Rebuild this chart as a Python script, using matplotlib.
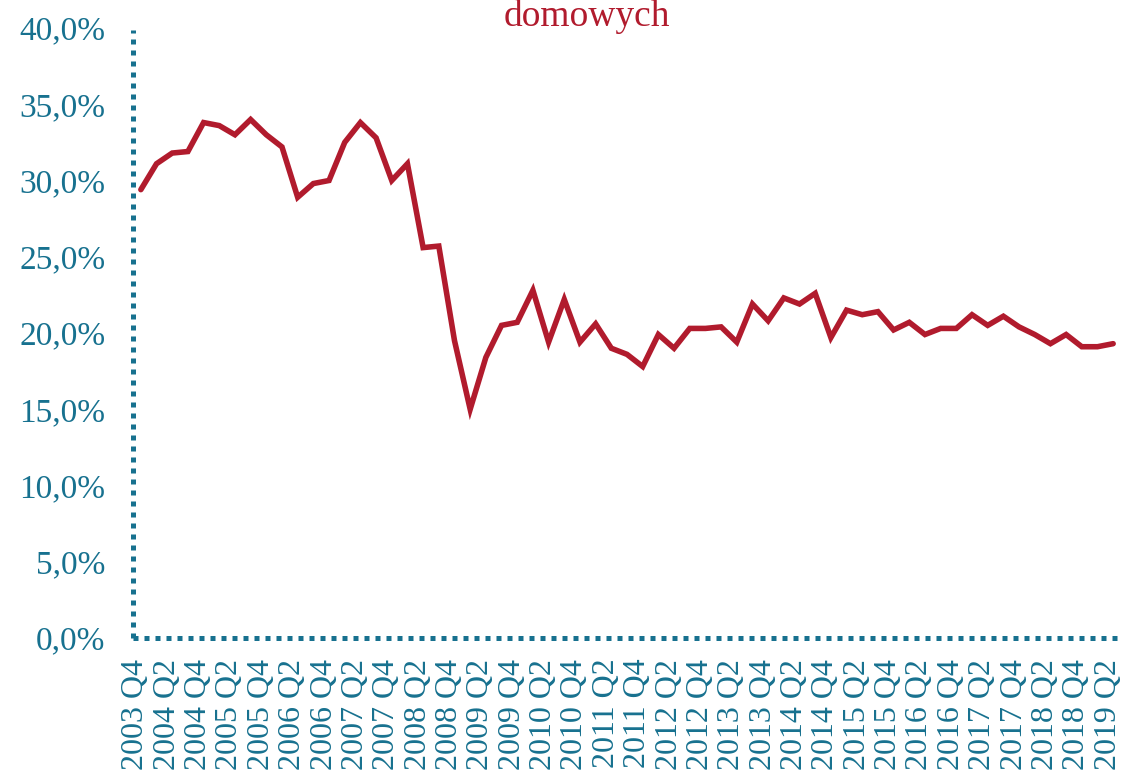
import matplotlib
matplotlib.use("Agg")
import matplotlib.pyplot as plt
from matplotlib.ticker import FuncFormatter
from matplotlib.transforms import ScaledTranslation

quarters = []
for y in range(2003, 2020):
    for q in (1, 2, 3, 4):
        if (y == 2003 and q < 4) or (y == 2019 and q > 2):
            continue
        quarters.append(f"{y} Q{q}")

values = [29.4, 31.1, 31.8, 31.9, 33.8, 33.6, 33.0, 34.0, 33.0, 32.2,
          28.9, 29.8, 30.0, 32.5, 33.8, 32.8, 30.0, 31.1, 25.6, 25.7,
          19.5, 15.0, 18.4, 20.5, 20.7, 22.8, 19.4, 22.2, 19.4, 20.6,
          19.0, 18.6, 17.8, 19.9, 19.0, 20.3, 20.3, 20.4, 19.4, 21.9,
          20.8, 22.3, 21.9, 22.6, 19.7, 21.5, 21.2, 21.4, 20.2, 20.7,
          19.9, 20.3, 20.3, 21.2, 20.5, 21.1, 20.4, 19.9, 19.3, 19.9,
          19.1, 19.1, 19.3]

title_text = "domowych"
yticks = [0, 5, 10, 15, 20, 25, 30, 35, 40]

teal = "#17718f"
red = "#b11b2d"
plt.rcParams['font.family'] = ['Liberation Serif', 'DejaVu Serif']

fig = plt.figure(figsize=(11.22, 7.81), dpi=100)
ax = fig.add_axes([133/1122, 1 - 638/781, (1121-133)/1122, (638-28)/781])

x = list(range(len(values)))
ax.plot(x, values, color=red, lw=4.0, solid_joinstyle='miter', solid_capstyle='round', zorder=3)

ax.set_xlim(-0.5, len(values) - 0.5)
ax.set_ylim(0, 40)
ax.set_yticks(yticks)
ax.yaxis.set_major_formatter(FuncFormatter(lambda v, p: f"{v:.1f}".replace('.', ',') + "%"))
ax.set_xticks(x[::2])
ax.set_xticklabels(quarters[::2], rotation=90, va='top', ha='center')

ax.tick_params(axis='both', length=0, colors=teal, labelsize=24)
ax.tick_params(axis='x', labelsize=23)
ax.tick_params(axis='y', pad=20)
ax.tick_params(axis='x', pad=15)

shift = ScaledTranslation(-5/100, 0, fig.dpi_scale_trans)
for lab in ax.get_xticklabels():
    lab.set_transform(lab.get_transform() + shift)

for s in ax.spines.values():
    s.set_visible(False)

# dotted axis lines
ax.plot([0, 1], [0, 0], transform=ax.transAxes, color=teal, lw=3.6,
        linestyle=(0, (1, 1.2)), dash_capstyle='butt', clip_on=False, zorder=2)
ax.plot([0, 0], [0, 0.997], transform=ax.transAxes, color=teal, lw=3.6,
        linestyle=(0, (1, 1.2)), dash_capstyle='butt', clip_on=False, zorder=2)

fig.text(587/1122, 1 - 16/781, title_text, color=red, fontsize=27, ha='center', va='center')

fig.savefig("out.png", dpi=100)
